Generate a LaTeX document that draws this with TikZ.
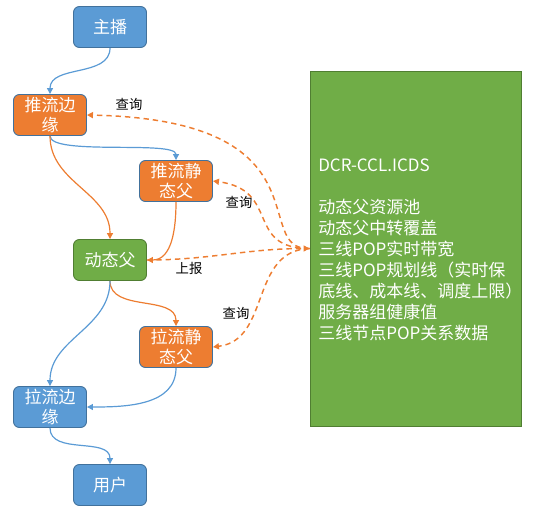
\documentclass[tikz,border=0pt]{standalone}
\usepackage{fontspec}
\setmainfont{Noto Sans CJK SC}
\usetikzlibrary{arrows.meta}
\definecolor{boxblue}{HTML}{5B9BD5}
\definecolor{boxorange}{HTML}{ED7D31}
\definecolor{boxgreen}{HTML}{70AD47}
\definecolor{rimblue}{HTML}{41719C}
\definecolor{rimgreen}{HTML}{507E32}
\tikzset{
  stage/.style={draw=rimblue, line width=0.7pt, rounded corners=4.5pt, minimum width=54.75pt,
    minimum height=30.75pt, inner sep=1pt, align=center, text=white,
    font=\fontsize{12.75}{15.5}\selectfont},
  pool/.style={draw=rimgreen, line width=0.7pt, fill=boxgreen, minimum width=158.25pt,
    minimum height=266.25pt, inner sep=0pt},
  blueflow/.style={draw=boxblue, line width=0.9pt, -{Triangle[length=4.5pt,width=4.5pt]}},
  orangeflow/.style={draw=boxorange, line width=0.9pt, -{Triangle[length=4.5pt,width=4.5pt]}},
  query/.style={draw=boxorange, line width=1.1pt, dash pattern=on 4pt off 3pt,
    -{Triangle[length=4.5pt,width=4.5pt]}},
  note/.style={font=\fontsize{10}{12}\selectfont, text=black}
}
\begin{document}
\begin{tikzpicture}[x=0.75pt,y=-0.75pt]
\useasboundingbox (0,0) rectangle (541,514);

% nodes
\node[stage, fill=boxblue] (zb) at (110,27) {主播};
\node[stage, fill=boxorange] (tlby) at (50,115) {推流边\\缘};
\node[stage, fill=boxorange] (tljtf) at (176,181) {推流静\\态父};
\node[stage, fill=boxgreen, draw=rimgreen] (dtf) at (110,260) {动态父};
\node[stage, fill=boxorange] (lljtf) at (176,347) {拉流静\\态父};
\node[stage, fill=boxblue] (llby) at (50,407) {拉流边\\缘};
\node[stage, fill=boxblue] (yh) at (110,485) {用户};

\node[pool] (dcr) at (415.5,248.5) {};
\node[anchor=west, align=left, inner sep=0pt, text=white,
  font=\fontsize{12.75}{15.75}\selectfont] (dcrinfo) at (318,250)
  {DCR-CCL.ICDS\\[15.75pt]动态父资源池\\动态父中转覆盖\\三线POP实时带宽\\三线POP规划线（实时保\\底线、成本线、调度上限）\\服务器组健康值\\三线节点POP关系数据};

% flow
\draw[blueflow] (zb.south) to[out=-90,in=90] (tlby.north);
\draw[blueflow] (tlby.south) to[out=-90,in=90,looseness=0.4] (tljtf.north);
\draw[orangeflow] (tlby.south) to[out=-90,in=90] (dtf.north);
\draw[orangeflow] (tljtf.south) to[out=-90,in=0] (dtf.east);
\draw[orangeflow] (dtf.south) to[out=-90,in=90] (lljtf.north);
\draw[blueflow] (dtf.south) to[out=-90,in=90] (llby.north);
\draw[blueflow] (lljtf.south) to[out=-90,in=0] (llby.east);
\draw[blueflow] (llby.south) to[out=-90,in=90] (yh.north);

% query / report
\draw[query] (dcr.west) .. controls +(-60,2) and +(244,5) .. (tlby.east);
\draw[query] (dcr.west) .. controls +(-65,0) and +(68,9) .. (tljtf.east);
\draw[query] (dtf.east) to[out=0,in=180] (dcr.west);
\draw[query] (dcr.west) .. controls +(-60,2) and +(58,-7) .. (lljtf.east);

\node[note] (q1) at (129,104) {查询};
\node[note] (q2) at (239,202) {查询};
\node[note] (sb) at (189,268) {上报};
\node[note] (q3) at (236,313) {查询};
\end{tikzpicture}
\end{document}
